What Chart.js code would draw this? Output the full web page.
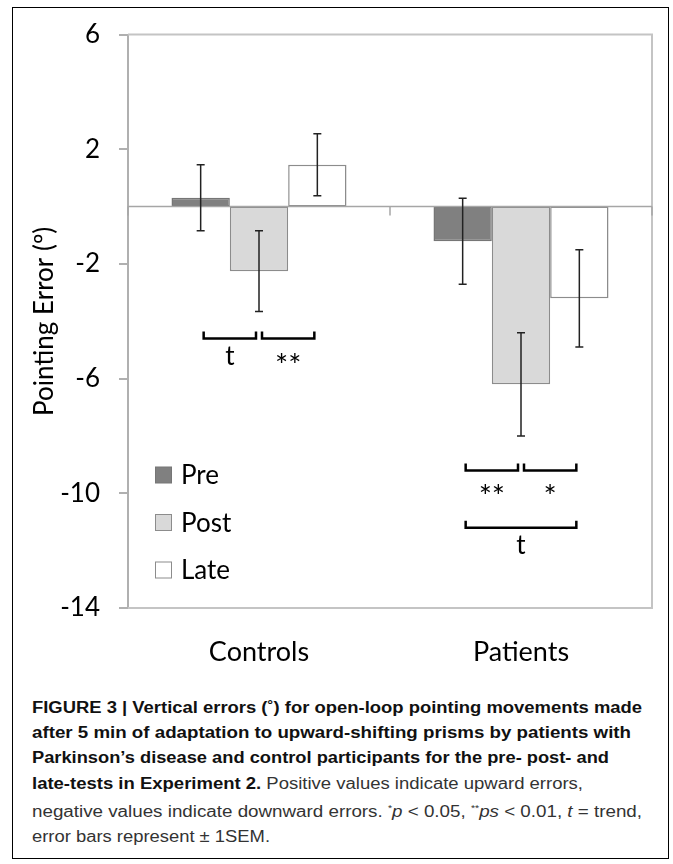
<!DOCTYPE html>
<html>
<head>
<meta charset="utf-8">
<script src="https://cdn.jsdelivr.net/npm/chart.js@4.4.1/dist/chart.umd.min.js"></script>
<style>
  body { margin: 0; background: #fff; }
  #frame { position: absolute; left: 12px; top: 7px; width: 655px; height: 850px; border: 1px solid #000; }
  #wrap { position: absolute; left: 0; top: 0; width: 673px; height: 680px; }
  #caption { position: absolute; left: 32px; top: 695px; font-family: 'Liberation Sans', Arial, sans-serif;
             font-size: 16px; line-height: 25.2px; color: #333; }
  #caption div { white-space: nowrap; transform-origin: 0 50%; }
  #caption b { color: #111; }
</style>
</head>
<body>
<div id="frame"></div>
<div id="wrap"><canvas id="grafico"></canvas></div>
<div id="caption">
  <div data-w="610"><b>FIGURE 3 | Vertical errors (˚) for open-loop pointing movements made</b></div>
  <div data-w="599"><b>after 5 min of adaptation to upward-shifting prisms by patients with</b></div>
  <div data-w="577"><b>Parkinson’s disease and control participants for the pre- post- and</b></div>
  <div data-w="551"><b>late-tests in Experiment 2.</b> Positive values indicate upward errors,</div>
  <div data-w="610">negative values indicate downward errors. <sup style="font-size:9px">*</sup><i>p</i> &lt; 0.05, <sup style="font-size:9px">**</sup><i>ps</i> &lt; 0.01, <i>t</i> = trend,</div>
  <div data-w="238">error bars represent ± 1SEM.</div>
</div>
<script>
const categorias = ['Controls', 'Patients'];
const series = ['Pre', 'Post', 'Late'];
const valoresPre = [0.31, -1.21];
const valoresPost = [-2.25, -6.2];
const valoresLate = [1.46, -3.2];
const errorPre = [1.15, 1.5];
const errorPost = [1.41, 1.8];
const errorLate = [1.08, 1.7];
const ticksY = [6, 2, -2, -6, -10, -14];

// brackets: categoria, serie desde, serie hasta, nivel (y), etiqueta
const corchetes = [
    [0, 0, 1, -4.6, 't'],
    [0, 1, 2, -4.6, '**'],
    [1, 0, 1, -9.2, '**'],
    [1, 1, 2, -9.2, '*'],
    [1, 0, 2, -11.2, 't']
];

const errores = [errorPre, errorPost, errorLate];
const FUENTE = 'Lato, Calibri, sans-serif';

const extras = {
    id: 'extras',
    afterDatasetsDraw(chart) {
        const ctx = chart.ctx;
        const area = chart.chartArea;
        const x = chart.scales.x;
        const y = chart.scales.y;
        ctx.save();

        // marco del area
        ctx.strokeStyle = '#c4c4c4';
        ctx.lineWidth = 2;
        ctx.beginPath();
        ctx.moveTo(area.left, area.top);
        ctx.lineTo(area.right, area.top);
        ctx.lineTo(area.right, area.bottom);
        ctx.lineTo(area.left, area.bottom);
        ctx.stroke();

        // linea cero con marcas
        const y0 = y.getPixelForValue(0);
        ctx.strokeStyle = '#a6a6a6';
        ctx.lineWidth = 1.5;
        ctx.beginPath();
        ctx.moveTo(area.left, y0);
        ctx.lineTo(area.right, y0);
        const medio = (x.getPixelForTick(0) + x.getPixelForTick(1)) / 2;
        [area.left, medio, area.right].forEach(px => {
            ctx.moveTo(px, y0);
            ctx.lineTo(px, y0 + 9);
        });
        ctx.stroke();

        // barras de error
        ctx.strokeStyle = '#222';
        ctx.lineWidth = 1.5;
        chart.data.datasets.forEach((ds, i) => {
            chart.getDatasetMeta(i).data.forEach((bar, j) => {
                const v = ds.data[j];
                const e = errores[i][j];
                const top = y.getPixelForValue(v + e);
                const bot = y.getPixelForValue(v - e);
                ctx.beginPath();
                ctx.moveTo(bar.x, top);
                ctx.lineTo(bar.x, bot);
                ctx.moveTo(bar.x - 4, top);
                ctx.lineTo(bar.x + 4, top);
                ctx.moveTo(bar.x - 4, bot);
                ctx.lineTo(bar.x + 4, bot);
                ctx.stroke();
            });
        });

        // corchetes de significancia
        ctx.strokeStyle = '#000';
        ctx.lineWidth = 2.5;
        ctx.fillStyle = '#000';
        ctx.textAlign = 'center';
        ctx.textBaseline = 'middle';
        corchetes.forEach(([c, a, b, nivel, texto]) => {
            const x1 = chart.getDatasetMeta(a).data[c].x + 3;
            const x2 = chart.getDatasetMeta(b).data[c].x - 3;
            const py = y.getPixelForValue(nivel);
            ctx.beginPath();
            ctx.moveTo(x1, py - 7);
            ctx.lineTo(x1, py);
            ctx.lineTo(x2, py);
            ctx.lineTo(x2, py - 7);
            ctx.stroke();
            if (texto === 't') {
                ctx.font = '26px ' + FUENTE;
                ctx.fillText(texto, (x1 + x2) / 2, py + 18);
            } else {
                ctx.font = '31px ' + FUENTE;
                ctx.fillText(texto, (x1 + x2) / 2, py + 27);
            }
        });

        // leyenda
        ctx.textAlign = 'left';
        ctx.lineWidth = 1;
        ctx.font = '26px ' + FUENTE;
        chart.data.datasets.forEach((ds, i) => {
            const cy = area.bottom - 133 + i * 47.5;
            ctx.fillStyle = ds.backgroundColor;
            ctx.fillRect(area.left + 27.5, cy - 8, 16, 16);
            ctx.strokeStyle = ds.borderColor;
            ctx.strokeRect(area.left + 27.5, cy - 8, 16, 16);
            ctx.fillStyle = '#000';
            ctx.fillText(ds.label, area.left + 53, cy + 1);
        });
        ctx.restore();
    }
};

const ctx = document.getElementById('grafico').getContext('2d');
new Chart(ctx, {
    type: 'bar',
    data: {
        labels: categorias,
        datasets: [
            { label: series[0], data: valoresPre, backgroundColor: '#808080', borderColor: '#767676', borderWidth: 1.5, borderSkipped: false },
            { label: series[1], data: valoresPost, backgroundColor: '#d9d9d9', borderColor: '#8c8c8c', borderWidth: 1.5, borderSkipped: false },
            { label: series[2], data: valoresLate, backgroundColor: '#ffffff', borderColor: '#8c8c8c', borderWidth: 1.5, borderSkipped: false }
        ]
    },
    options: {
        responsive: true,
        maintainAspectRatio: false,
        animation: false,
        devicePixelRatio: 1,
        categoryPercentage: 0.668,
        barPercentage: 1,
        layout: { padding: { left: 29, top: 33, right: 21, bottom: 0 } },
        plugins: { legend: { display: false }, tooltip: { enabled: false } },
        scales: {
            x: {
                grid: { display: false },
                border: { display: false },
                ticks: { color: '#000', font: { family: FUENTE, size: 27 }, padding: 20 },
                afterFit: s => { s.height = 72; }
            },
            y: {
                min: -14,
                max: 6,
                afterBuildTicks: s => { s.ticks = ticksY.map(v => ({ value: v })); },
                ticks: { color: '#000', font: { family: FUENTE, size: 26 }, padding: 19 },
                grid: { drawOnChartArea: false, tickLength: 9, color: '#b0b0b0', lineWidth: 2 },
                border: { display: true, color: '#b0b0b0', width: 2 },
                title: { display: true, text: 'Pointing Error (º)', color: '#000', font: { family: FUENTE, size: 26 }, padding: 0 },
                afterFit: s => { s.width = 99; }
            }
        }
    },
    plugins: [extras]
});

document.querySelectorAll('#caption div').forEach(d => {
    d.style.display = 'inline-block';
    const w = d.getBoundingClientRect().width;
    d.style.transform = 'scaleX(' + (Number(d.dataset.w) / w) + ')';
    d.style.display = 'block';
});
</script>
</body>
</html>
